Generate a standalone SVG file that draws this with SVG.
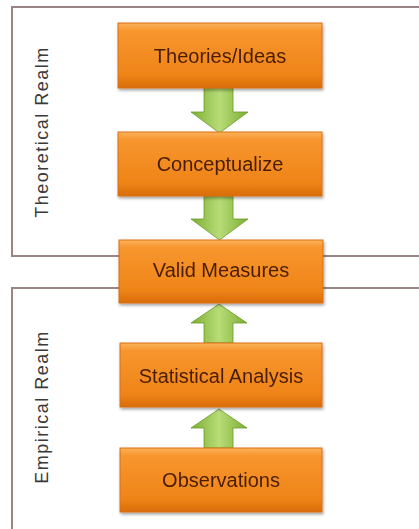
<svg xmlns="http://www.w3.org/2000/svg" width="419" height="529" viewBox="0 0 419 529">
<style>
.frame{fill:none;stroke:#9a8484;stroke-width:2}
.box{fill:url(#og);stroke:#d9700f;stroke-width:1}
.lbl{font-family:"Liberation Sans",Arial,sans-serif;font-size:20px;fill:#4a1e05;text-anchor:middle;dominant-baseline:central}
.realm{font-family:"Liberation Sans",Arial,sans-serif;font-size:18px;fill:#3a3a3a;text-anchor:middle;dominant-baseline:central;letter-spacing:1.5px}
.arr{fill:url(#gg);stroke:#6a9a2a;stroke-width:0.8}
</style>
<defs>
<linearGradient id="og" x1="0" y1="0" x2="0" y2="1">
<stop offset="0" stop-color="#fbb25c"/>
<stop offset="0.12" stop-color="#f7962e"/>
<stop offset="0.8" stop-color="#ef8418"/>
<stop offset="1" stop-color="#d86c08"/>
</linearGradient>
<linearGradient id="gg" x1="0" y1="0" x2="1" y2="0">
<stop offset="0" stop-color="#7cae32"/>
<stop offset="0.5" stop-color="#b8dc78"/>
<stop offset="1" stop-color="#7cae32"/>
</linearGradient>
<filter id="sh" x="-10%" y="-10%" width="130%" height="140%">
<feDropShadow dx="1" dy="2" stdDeviation="1.5" flood-color="#000" flood-opacity="0.35"/>
</filter>
</defs>
<g id="frames">
<path class="frame" d="M419 7 H12 V256 H419"/>
<path class="frame" d="M419 288 H12 V529"/>
</g>
<g id="realm-labels">
<text class="realm" transform="translate(42 132) rotate(-90)">Theoretical Realm</text>
<text class="realm" transform="translate(42 407) rotate(-90)">Empirical Realm</text>
</g>
<g id="connectors">
<path class="arr" d="M204 88 H233 V112 H248 L219.5 133 L191 112 H204 Z"/>
<path class="arr" d="M204 196 H233 V219 H248 L219.5 240 L191 219 H204 Z"/>
<path class="arr" d="M204 343 H233 V323 H247 L219 304 L191 323 H204 Z"/>
<path class="arr" d="M204 448 H233 V428 H247 L219 409 L191 428 H204 Z"/>
</g>
<g id="n1" filter="url(#sh)"><rect class="box" x="118" y="23" width="204" height="65"/><text class="lbl" x="220" y="56">Theories/Ideas</text></g>
<g id="n2" filter="url(#sh)"><rect class="box" x="118" y="132" width="204" height="64"/><text class="lbl" x="220" y="164">Conceptualize</text></g>
<g id="n3" filter="url(#sh)"><rect class="box" x="119" y="240" width="204" height="63"/><text class="lbl" x="221" y="270">Valid Measures</text></g>
<g id="n4" filter="url(#sh)"><rect class="box" x="120" y="343" width="202" height="64"/><text class="lbl" x="221" y="376">Statistical Analysis</text></g>
<g id="n5" filter="url(#sh)"><rect class="box" x="120" y="448" width="202" height="64"/><text class="lbl" x="221" y="480">Observations</text></g>
</svg>
